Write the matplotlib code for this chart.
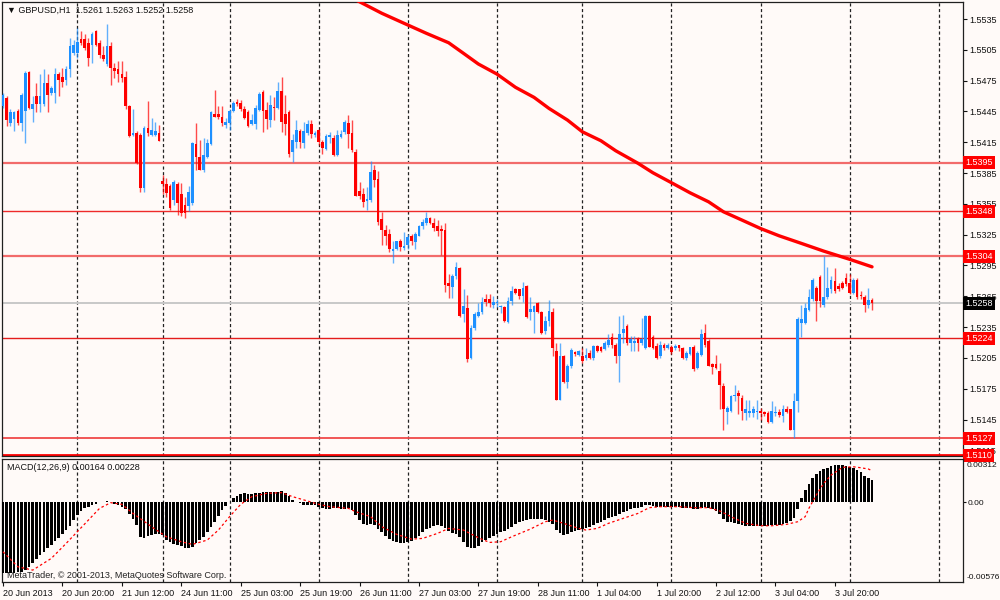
import matplotlib
matplotlib.use("Agg")
import matplotlib.pyplot as plt
import numpy as np

# GBPUSD H1 candles, 20 Jun 04:00 .. 4 Jul 06:00
opens = [
    1.5450, 1.5458, 1.5434, 1.5438, 1.5445, 1.5434, 1.5445, 1.5483, 1.5447, 1.5460,
    1.5452, 1.5452, 1.5473, 1.5463, 1.5463, 1.5481, 1.5479, 1.5476, 1.5486, 1.5502,
    1.5502, 1.5516, 1.5516, 1.5512, 1.5510, 1.5523, 1.5512, 1.5500, 1.5491, 1.5509,
    1.5487, 1.5486, 1.5481, 1.5479, 1.5450, 1.5422, 1.5424, 1.5422, 1.5370, 1.5429,
    1.5422, 1.5422, 1.5424, 1.5377, 1.5374, 1.5372, 1.5359, 1.5374, 1.5365, 1.5354,
    1.5353, 1.5356, 1.5413, 1.5401, 1.5388, 1.5401, 1.5413, 1.5443, 1.5443, 1.5440,
    1.5432, 1.5434, 1.5445, 1.5454, 1.5453, 1.5447, 1.5444, 1.5433, 1.5433, 1.5446,
    1.5464, 1.5446, 1.5437, 1.5449, 1.5448, 1.5465, 1.5443, 1.5444, 1.5406, 1.5415,
    1.5426, 1.5414, 1.5424, 1.5433, 1.5422, 1.5427, 1.5415, 1.5408, 1.5420, 1.5419,
    1.5403, 1.5420, 1.5425, 1.5434, 1.5424, 1.5406, 1.5368, 1.5365, 1.5358, 1.5359,
    1.5388, 1.5379, 1.5340, 1.5330, 1.5326, 1.5309, 1.5311, 1.5319, 1.5312, 1.5315,
    1.5324, 1.5318, 1.5324, 1.5333, 1.5336, 1.5341, 1.5336, 1.5333, 1.5331, 1.5330,
    1.5278, 1.5274, 1.5285, 1.5293, 1.5248, 1.5254, 1.5205, 1.5234, 1.5246, 1.5250,
    1.5262, 1.5262, 1.5257, 1.5258, 1.5255, 1.5255, 1.5240, 1.5260, 1.5272, 1.5272,
    1.5265, 1.5275, 1.5250, 1.5250, 1.5258, 1.5250, 1.5231, 1.5241, 1.5250, 1.5212,
    1.5164, 1.5207, 1.5182, 1.5197, 1.5211, 1.5208, 1.5207, 1.5205, 1.5210, 1.5205,
    1.5217, 1.5216, 1.5214, 1.5218, 1.5225, 1.5218, 1.5207, 1.5229, 1.5236, 1.5220,
    1.5220, 1.5223, 1.5220, 1.5215, 1.5246, 1.5225, 1.5217, 1.5207, 1.5218, 1.5215,
    1.5216, 1.5215, 1.5218, 1.5215, 1.5205, 1.5209, 1.5216, 1.5195, 1.5208, 1.5229,
    1.5221, 1.5199, 1.5199, 1.5192, 1.5178, 1.5152, 1.5153, 1.5168, 1.5171, 1.5166,
    1.5151, 1.5151, 1.5151, 1.5152, 1.5153, 1.5152, 1.5151, 1.5143, 1.5151, 1.5152,
    1.5148, 1.5155, 1.5155, 1.5135, 1.5163, 1.5239, 1.5239, 1.5252, 1.5262, 1.5273,
    1.5284, 1.5257, 1.5264, 1.5272, 1.5280, 1.5275, 1.5278, 1.5283, 1.5278, 1.5268,
    1.5281, 1.5266, 1.5264, 1.5257, 1.5261,
]
highs = [
    1.5463, 1.5460, 1.5447, 1.5445, 1.5447, 1.5463, 1.5484, 1.5484, 1.5460, 1.5473,
    1.5481, 1.5486, 1.5481, 1.5470, 1.5487, 1.5483, 1.5487, 1.5489, 1.5517, 1.5515,
    1.5526, 1.5523, 1.5520, 1.5517, 1.5522, 1.5524, 1.5515, 1.5509, 1.5530, 1.5513,
    1.5492, 1.5494, 1.5494, 1.5484, 1.5451, 1.5447, 1.5426, 1.5424, 1.5431, 1.5455,
    1.5439, 1.5435, 1.5432, 1.5383, 1.5380, 1.5374, 1.5378, 1.5376, 1.5375, 1.5362,
    1.5372, 1.5415, 1.5434, 1.5417, 1.5419, 1.5418, 1.5445, 1.5466, 1.5450, 1.5450,
    1.5439, 1.5447, 1.5455, 1.5457, 1.5456, 1.5450, 1.5446, 1.5443, 1.5451, 1.5464,
    1.5466, 1.5454, 1.5461, 1.5459, 1.5474, 1.5479, 1.5461, 1.5446, 1.5423, 1.5437,
    1.5428, 1.5435, 1.5437, 1.5437, 1.5426, 1.5428, 1.5417, 1.5423, 1.5425, 1.5422,
    1.5427, 1.5427, 1.5437, 1.5442, 1.5437, 1.5408, 1.5376, 1.5370, 1.5371, 1.5397,
    1.5393, 1.5387, 1.5347, 1.5334, 1.5331, 1.5319, 1.5319, 1.5321, 1.5328, 1.5326,
    1.5326, 1.5328, 1.5334, 1.5340, 1.5347, 1.5342, 1.5341, 1.5339, 1.5334, 1.5336,
    1.5287, 1.5287, 1.5298, 1.5294, 1.5272, 1.5266, 1.5237, 1.5250, 1.5258, 1.5264,
    1.5267, 1.5267, 1.5265, 1.5262, 1.5257, 1.5256, 1.5264, 1.5275, 1.5273, 1.5272,
    1.5279, 1.5276, 1.5264, 1.5257, 1.5259, 1.5251, 1.5246, 1.5261, 1.5254, 1.5220,
    1.5220, 1.5208, 1.5199, 1.5215, 1.5212, 1.5213, 1.5215, 1.5215, 1.5213, 1.5218,
    1.5218, 1.5217, 1.5221, 1.5228, 1.5229, 1.5220, 1.5246, 1.5247, 1.5238, 1.5226,
    1.5226, 1.5225, 1.5244, 1.5247, 1.5247, 1.5227, 1.5220, 1.5221, 1.5220, 1.5220,
    1.5218, 1.5219, 1.5218, 1.5216, 1.5212, 1.5216, 1.5218, 1.5212, 1.5233, 1.5238,
    1.5223, 1.5200, 1.5208, 1.5200, 1.5181, 1.5158, 1.5169, 1.5179, 1.5174, 1.5169,
    1.5164, 1.5164, 1.5158, 1.5164, 1.5156, 1.5153, 1.5153, 1.5163, 1.5158, 1.5155,
    1.5159, 1.5158, 1.5155, 1.5171, 1.5245, 1.5257, 1.5258, 1.5272, 1.5283, 1.5275,
    1.5286, 1.5304, 1.5294, 1.5285, 1.5293, 1.5278, 1.5280, 1.5288, 1.5287, 1.5283,
    1.5283, 1.5270, 1.5266, 1.5273, 1.5263,
]
lows = [
    1.5448, 1.5431, 1.5431, 1.5426, 1.5432, 1.5426, 1.5414, 1.5447, 1.5435, 1.5444,
    1.5444, 1.5450, 1.5444, 1.5461, 1.5453, 1.5460, 1.5469, 1.5471, 1.5479, 1.5500,
    1.5497, 1.5510, 1.5505, 1.5489, 1.5492, 1.5509, 1.5497, 1.5494, 1.5489, 1.5471,
    1.5478, 1.5474, 1.5474, 1.5447, 1.5420, 1.5421, 1.5394, 1.5367, 1.5367, 1.5421,
    1.5421, 1.5421, 1.5416, 1.5365, 1.5362, 1.5349, 1.5354, 1.5344, 1.5343, 1.5341,
    1.5348, 1.5354, 1.5388, 1.5388, 1.5386, 1.5400, 1.5412, 1.5440, 1.5438, 1.5431,
    1.5429, 1.5427, 1.5444, 1.5450, 1.5445, 1.5438, 1.5430, 1.5432, 1.5428, 1.5445,
    1.5425, 1.5428, 1.5430, 1.5437, 1.5447, 1.5425, 1.5422, 1.5401, 1.5396, 1.5409,
    1.5409, 1.5409, 1.5422, 1.5419, 1.5420, 1.5412, 1.5404, 1.5407, 1.5414, 1.5402,
    1.5402, 1.5419, 1.5423, 1.5409, 1.5406, 1.5363, 1.5360, 1.5352, 1.5349, 1.5357,
    1.5371, 1.5334, 1.5315, 1.5315, 1.5308, 1.5297, 1.5310, 1.5309, 1.5310, 1.5311,
    1.5315, 1.5311, 1.5324, 1.5331, 1.5334, 1.5335, 1.5329, 1.5324, 1.5305, 1.5269,
    1.5263, 1.5263, 1.5282, 1.5245, 1.5240, 1.5201, 1.5204, 1.5232, 1.5245, 1.5248,
    1.5256, 1.5255, 1.5254, 1.5255, 1.5249, 1.5240, 1.5239, 1.5257, 1.5267, 1.5262,
    1.5259, 1.5244, 1.5242, 1.5229, 1.5249, 1.5228, 1.5228, 1.5236, 1.5207, 1.5164,
    1.5164, 1.5181, 1.5176, 1.5195, 1.5207, 1.5207, 1.5200, 1.5203, 1.5204, 1.5203,
    1.5211, 1.5211, 1.5213, 1.5216, 1.5215, 1.5200, 1.5182, 1.5220, 1.5218, 1.5212,
    1.5212, 1.5212, 1.5218, 1.5214, 1.5216, 1.5214, 1.5204, 1.5205, 1.5213, 1.5214,
    1.5209, 1.5213, 1.5212, 1.5204, 1.5203, 1.5208, 1.5192, 1.5194, 1.5207, 1.5216,
    1.5197, 1.5189, 1.5194, 1.5155, 1.5135, 1.5141, 1.5152, 1.5163, 1.5150, 1.5145,
    1.5145, 1.5147, 1.5147, 1.5146, 1.5145, 1.5148, 1.5142, 1.5142, 1.5148, 1.5147,
    1.5143, 1.5151, 1.5135, 1.5127, 1.5152, 1.5225, 1.5238, 1.5251, 1.5260, 1.5241,
    1.5255, 1.5255, 1.5262, 1.5268, 1.5268, 1.5270, 1.5272, 1.5275, 1.5267, 1.5267,
    1.5262, 1.5262, 1.5250, 1.5254, 1.5252,
]
closes = [
    1.5461, 1.5437, 1.5444, 1.5444, 1.5434, 1.5461, 1.5482, 1.5448, 1.5452, 1.5452,
    1.5460, 1.5473, 1.5461, 1.5468, 1.5481, 1.5476, 1.5474, 1.5486, 1.5509, 1.5510,
    1.5513, 1.5512, 1.5507, 1.5497, 1.5520, 1.5510, 1.5500, 1.5496, 1.5509, 1.5487,
    1.5484, 1.5481, 1.5478, 1.5450, 1.5421, 1.5424, 1.5395, 1.5370, 1.5429, 1.5424,
    1.5427, 1.5426, 1.5416, 1.5374, 1.5366, 1.5351, 1.5376, 1.5356, 1.5346, 1.5346,
    1.5367, 1.5414, 1.5401, 1.5388, 1.5403, 1.5414, 1.5444, 1.5440, 1.5440, 1.5434,
    1.5435, 1.5445, 1.5453, 1.5452, 1.5447, 1.5439, 1.5431, 1.5437, 1.5448, 1.5462,
    1.5445, 1.5438, 1.5451, 1.5448, 1.5465, 1.5435, 1.5433, 1.5404, 1.5417, 1.5427,
    1.5415, 1.5426, 1.5433, 1.5423, 1.5424, 1.5415, 1.5409, 1.5421, 1.5422, 1.5403,
    1.5422, 1.5423, 1.5435, 1.5423, 1.5407, 1.5363, 1.5363, 1.5357, 1.5360, 1.5386,
    1.5378, 1.5337, 1.5330, 1.5324, 1.5311, 1.5311, 1.5319, 1.5313, 1.5314, 1.5323,
    1.5319, 1.5326, 1.5333, 1.5337, 1.5341, 1.5336, 1.5332, 1.5329, 1.5329, 1.5276,
    1.5275, 1.5285, 1.5294, 1.5246, 1.5256, 1.5204, 1.5234, 1.5248, 1.5250, 1.5259,
    1.5259, 1.5258, 1.5259, 1.5259, 1.5256, 1.5241, 1.5260, 1.5270, 1.5268, 1.5265,
    1.5273, 1.5245, 1.5253, 1.5256, 1.5250, 1.5229, 1.5241, 1.5251, 1.5215, 1.5164,
    1.5207, 1.5182, 1.5197, 1.5213, 1.5209, 1.5212, 1.5202, 1.5208, 1.5205, 1.5217,
    1.5212, 1.5212, 1.5220, 1.5222, 1.5218, 1.5207, 1.5228, 1.5233, 1.5220, 1.5223,
    1.5221, 1.5220, 1.5223, 1.5246, 1.5216, 1.5215, 1.5205, 1.5218, 1.5215, 1.5218,
    1.5211, 1.5217, 1.5215, 1.5205, 1.5210, 1.5216, 1.5194, 1.5210, 1.5228, 1.5218,
    1.5197, 1.5196, 1.5195, 1.5179, 1.5155, 1.5156, 1.5168, 1.5169, 1.5168, 1.5153,
    1.5155, 1.5153, 1.5155, 1.5153, 1.5151, 1.5150, 1.5143, 1.5153, 1.5152, 1.5149,
    1.5155, 1.5152, 1.5135, 1.5163, 1.5243, 1.5243, 1.5254, 1.5264, 1.5281, 1.5260,
    1.5260, 1.5264, 1.5273, 1.5281, 1.5270, 1.5272, 1.5273, 1.5277, 1.5268, 1.5281,
    1.5264, 1.5265, 1.5257, 1.5261, 1.5258,
]

# MACD(12,26,9) main values, one per bar
macd_main = [
    -0.00511, -0.00511, -0.00511, -0.00506, -0.00503, -0.00499, -0.00487, -0.00463, -0.00439, -0.00407,
    -0.00379, -0.00355, -0.00331, -0.00307, -0.00278, -0.00254, -0.00230, -0.00199, -0.00168, -0.00127,
    -0.00091, -0.00062, -0.00043, -0.00031, -0.00019, -0.00010, 0.00005, 0.00002, 0.00010, 0.00000,
    -0.00010, -0.00019, -0.00031, -0.00048, -0.00086, -0.00120, -0.00163, -0.00247, -0.00254, -0.00242,
    -0.00235, -0.00230, -0.00230, -0.00235, -0.00271, -0.00288, -0.00302, -0.00307, -0.00314, -0.00331,
    -0.00331, -0.00319, -0.00295, -0.00271, -0.00247, -0.00216, -0.00175, -0.00139, -0.00096, -0.00055,
    -0.00024, 0.00005, 0.00034, 0.00048, 0.00058, 0.00067, 0.00062, 0.00058, 0.00065, 0.00070,
    0.00077, 0.00072, 0.00072, 0.00072, 0.00077, 0.00082, 0.00065, 0.00048, 0.00017, 0.00005,
    -0.00007, -0.00019, -0.00019, -0.00019, -0.00019, -0.00031, -0.00043, -0.00048, -0.00048, -0.00043,
    -0.00043, -0.00048, -0.00048, -0.00043, -0.00055, -0.00091, -0.00127, -0.00158, -0.00163, -0.00158,
    -0.00163, -0.00192, -0.00216, -0.00240, -0.00264, -0.00278, -0.00288, -0.00295, -0.00295, -0.00288,
    -0.00278, -0.00259, -0.00240, -0.00211, -0.00192, -0.00182, -0.00168, -0.00163, -0.00168, -0.00187,
    -0.00206, -0.00221, -0.00226, -0.00247, -0.00288, -0.00319, -0.00331, -0.00326, -0.00312, -0.00288,
    -0.00271, -0.00254, -0.00240, -0.00230, -0.00216, -0.00206, -0.00192, -0.00175, -0.00158, -0.00144,
    -0.00134, -0.00127, -0.00122, -0.00122, -0.00120, -0.00122, -0.00129, -0.00139, -0.00158, -0.00199,
    -0.00223, -0.00235, -0.00230, -0.00216, -0.00206, -0.00199, -0.00192, -0.00187, -0.00177, -0.00163,
    -0.00151, -0.00139, -0.00127, -0.00115, -0.00103, -0.00096, -0.00081, -0.00072, -0.00062, -0.00050,
    -0.00043, -0.00038, -0.00031, -0.00019, -0.00019, -0.00024, -0.00034, -0.00031, -0.00031, -0.00031,
    -0.00031, -0.00031, -0.00036, -0.00038, -0.00038, -0.00038, -0.00048, -0.00048, -0.00038, -0.00036,
    -0.00043, -0.00048, -0.00062, -0.00086, -0.00120, -0.00139, -0.00144, -0.00151, -0.00158, -0.00163,
    -0.00168, -0.00170, -0.00170, -0.00170, -0.00170, -0.00168, -0.00168, -0.00165, -0.00163, -0.00163,
    -0.00156, -0.00149, -0.00134, -0.00115, -0.00048, 0.00029, 0.00089, 0.00129, 0.00177, 0.00201,
    0.00225, 0.00237, 0.00249, 0.00264, 0.00268, 0.00268, 0.00268, 0.00264, 0.00256, 0.00244,
    0.00233, 0.00216, 0.00192, 0.00177, 0.00164,
]

# signal line, read at these bars
sig_bars = [0, 4, 8, 13, 17, 20, 23, 26, 29, 32,
            35, 40, 44, 48, 51, 55, 58, 61, 64, 67,
            71, 75, 78, 82, 85, 88, 93, 95, 99, 102,
            106, 110, 113, 117, 120, 124, 128, 131, 134, 137,
            142, 146, 148, 151, 155, 157, 160, 163, 167, 171,
            174, 177, 182, 186, 190, 193, 197, 200, 204, 207,
            211, 214, 216, 217, 219, 221, 223, 225, 226, 229,
            231, 233, 234]
sig_vals = [-0.00355, -0.00463, -0.00487, -0.00403, -0.00295, -0.00211, -0.00127, -0.00043, -0.00002, -0.00014,
            -0.00079, -0.00175, -0.00247, -0.00283, -0.00302, -0.00271, -0.00199, -0.00103, -0.00014, 0.00041,
            0.00065, 0.00070, 0.00041, 0.00010, -0.00014, -0.00031, -0.00043, -0.00067, -0.00103, -0.00175,
            -0.00230, -0.00264, -0.00259, -0.00223, -0.00187, -0.00199, -0.00254, -0.00288, -0.00283, -0.00247,
            -0.00192, -0.00139, -0.00127, -0.00151, -0.00187, -0.00199, -0.00187, -0.00151, -0.00115, -0.00079,
            -0.00038, -0.00031, -0.00031, -0.00038, -0.00038, -0.00062, -0.00115, -0.00151, -0.00168, -0.00168,
            -0.00158, -0.00139, -0.00103, -0.00043, 0.00053, 0.00137, 0.00197, 0.00233, 0.00252, 0.00256,
            0.00249, 0.00240, 0.00228]

# red moving average, read at these bars
ma_bars = [92, 96, 102, 109, 114, 120, 124, 128, 133, 138, 143, 147, 152, 156,
           161, 165, 171, 175, 180, 185, 190, 194, 199, 204, 209, 215, 221, 228, 234]
ma_vals = [1.55590, 1.55518, 1.55406, 1.55292, 1.55211, 1.55119, 1.55016, 1.54912, 1.54814,
           1.54685, 1.54587, 1.54480, 1.54366, 1.54252, 1.54165, 1.54067, 1.53945, 1.53853,
           1.53756, 1.53658, 1.53570, 1.53473, 1.53392, 1.53310, 1.53239, 1.53165, 1.53090,
           1.53010, 1.52937]

# horizontal levels: price, colour, width
levels = [(1.5395, "#f26b6b", 1.6), (1.5348, "#ee2a2a", 1.0), (1.5304, "#f26b6b", 1.6),
          (1.5224, "#e41c1c", 1.0), (1.5127, "#f04848", 1.3), (1.5110, "#ff0000", 2.0)]
bid = 1.5258

macd_top = 0.00312
macd_bottom = -0.00576

day_bars = [20, 43, 61, 85, 109, 133, 156, 180, 204, 228, 252]
tick_bars = [0, 16, 32, 48, 64, 80, 96, 112, 128, 144, 160, 176, 192, 208, 224]
tick_labels = ["20 Jun 2013", "20 Jun 20:00", "21 Jun 12:00", "24 Jun 11:00", "25 Jun 03:00",
               "25 Jun 19:00", "26 Jun 11:00", "27 Jun 03:00", "27 Jun 19:00", "28 Jun 11:00",
               "1 Jul 04:00", "1 Jul 20:00", "2 Jul 12:00", "3 Jul 04:00", "3 Jul 20:00"]

plt.rcParams["font.family"] = ["Liberation Sans", "DejaVu Sans"]

BG = "#fffaf8"
BULL = "#1e90ff"
BEAR = "#ff0000"
FS = 6.5

fig = plt.figure(figsize=(10, 6), dpi=100, facecolor=BG)
ax = fig.add_axes([0.002, 0.24, 0.961, 0.7567], facecolor=BG)
axm = fig.add_axes([0.002, 0.0292, 0.961, 0.2058], facecolor=BG, sharex=ax)

# candles
x = np.arange(len(closes))
o = np.array(opens)
c = np.array(closes)
up = c > o
col = np.where(up, BULL, BEAR)
ax.vlines(x, lows, highs, colors=col, lw=1, alpha=0.7, zorder=3)
body = np.maximum(np.abs(c - o), 0.00004)
ax.bar(x, body, bottom=np.minimum(o, c), width=0.72, color=col, lw=0, zorder=4)

ax.plot(ma_bars, ma_vals, color="#ff0000", lw=2.4, solid_capstyle="round",
        solid_joinstyle="round", zorder=5)

ax.axhline(bid, color="#c8c8c8", lw=1.4, zorder=2)
for p, lc, lw in levels:
    ax.axhline(p, color=lc, lw=lw, zorder=2)

for a in (ax, axm):
    for b in day_bars:
        a.axvline(b, color="#222222", lw=0.9, ls=(0, (2.5, 2)), zorder=1)
    for s in a.spines.values():
        s.set_color("#202020")
        s.set_linewidth(0.9)

ax.set_xlim(-0.27, 258.5)
ax.set_ylim(1.51095, 1.55516)

ax.yaxis.tick_right()
yt = np.round(np.arange(1.5115, 1.5536, 0.0030), 4)
ax.set_yticks(yt)
ax.set_yticklabels([f"{v:.4f}" for v in yt])
ax.tick_params(axis="y", length=3, width=0.8, pad=1.5, labelsize=FS, colors="#111111")
ax.tick_params(axis="x", length=0, labelbottom=False)

# price boxes on the right
tr = ax.get_yaxis_transform()
for p, lc, lw in levels:
    ax.text(1.0025, p, f"{p:.4f}", transform=tr, ha="left", va="center", fontsize=FS,
            color="white", clip_on=False, zorder=10,
            bbox=dict(boxstyle="square,pad=0.22", fc="#ff0000", ec="none"))
ax.text(1.0025, bid, f"{bid:.4f}", transform=tr, ha="left", va="center", fontsize=FS,
        color="white", clip_on=False, zorder=10,
        bbox=dict(boxstyle="square,pad=0.22", fc="#000000", ec="none"))

# MACD panel
axm.bar(x, macd_main, width=0.72, color="black", lw=0, zorder=3)
axm.plot(sig_bars, sig_vals, color="#ff0000", lw=0.9, ls=(0, (2, 2)), zorder=4)
axm.set_ylim(macd_bottom, macd_top)
axm.yaxis.tick_right()
axm.set_yticks([0.0])
axm.set_yticklabels(["0.00"])
axm.tick_params(axis="y", length=2, width=0.8, pad=1, labelsize=6.0, colors="#111111")
# range labels sit just inside the panel edges, like the terminal draws them
axm.text(1.0035, 0.951, f"{macd_top:.5f}", transform=axm.transAxes, ha="left",
         va="center", fontsize=6.0, color="#111111", clip_on=False)
axm.text(1.0035, 0.039, f"{macd_bottom:.5f}", transform=axm.transAxes, ha="left",
         va="center", fontsize=6.0, color="#111111", clip_on=False)

axm.set_xticks(tick_bars)
axm.set_xticklabels(tick_labels, ha="left")
axm.tick_params(axis="x", length=3, width=0.8, pad=2, labelsize=FS, colors="#111111")

axm.text(0.005, 0.02, "MetaTrader, \u00a9 2001-2013, MetaQuotes Software Corp.",
         transform=axm.transAxes, fontsize=FS, color="#222222", va="bottom", zorder=1)
fig.text(0.007, 1 - 467 / 600, f"MACD(12,26,9) {macd_main[-1]:.5f} {sig_vals[-1]:.5f}",
         fontsize=FS, color="#111111", va="center")
fig.text(0.007, 1 - 10 / 600,
         f"\u25bc GBPUSD,H1  {opens[-1]:.4f} {highs[-1]:.4f} {lows[-1]:.4f} {closes[-1]:.4f}",
         fontsize=FS, color="#111111", va="center")

fig.savefig("out.png", dpi=100, facecolor=BG)
